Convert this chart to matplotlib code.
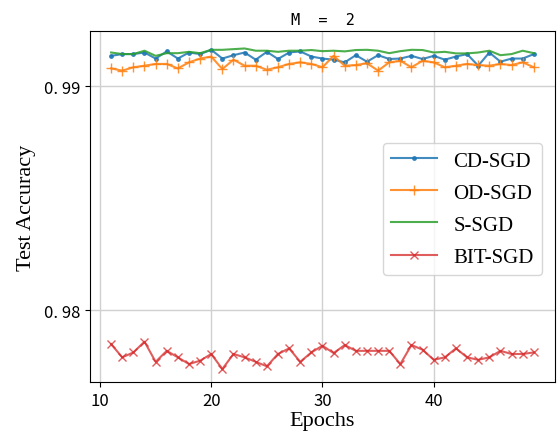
import numpy as np
import matplotlib.pyplot as plt

epochs = list(range(11, 50))

cd_sgd = [0.99135, 0.99143, 0.99143, 0.99150, 0.99123, 0.99155, 0.99123, 0.99150, 0.99143, 0.99162,
          0.99123, 0.99138, 0.99150, 0.99118, 0.99153, 0.99121, 0.99150, 0.99155, 0.99132, 0.99123,
          0.99118, 0.99106, 0.99138, 0.99109, 0.99138, 0.99121, 0.99123, 0.99135, 0.99121, 0.99135,
          0.99118, 0.99132, 0.99143, 0.99091, 0.99150, 0.99109, 0.99123, 0.99123, 0.99143]

od_sgd = [0.99079, 0.99069, 0.99084, 0.99091, 0.99099, 0.99099, 0.99079, 0.99106, 0.99123, 0.99132,
          0.99076, 0.99118, 0.99091, 0.99091, 0.99073, 0.99084, 0.99099, 0.99106, 0.99099, 0.99084,
          0.99135, 0.99091, 0.99094, 0.99102, 0.99069, 0.99106, 0.99113, 0.99084, 0.99113, 0.99106,
          0.99084, 0.99091, 0.99099, 0.99094, 0.99091, 0.99099, 0.99094, 0.99106, 0.99084]

s_sgd = [0.99150, 0.99143, 0.99143, 0.99158, 0.99135, 0.99147, 0.99147, 0.99153, 0.99147, 0.99162,
         0.99162, 0.99165, 0.99168, 0.99158, 0.99158, 0.99153, 0.99158, 0.99158, 0.99161, 0.99156,
         0.99158, 0.99155, 0.99161, 0.99162, 0.99158, 0.99147, 0.99156, 0.99162, 0.99161, 0.99150,
         0.99153, 0.99146, 0.99146, 0.99150, 0.99158, 0.99138, 0.99143, 0.99158, 0.99147]

bit_sgd = [0.97848, 0.97789, 0.97811, 0.97859, 0.97769, 0.97818, 0.97789, 0.97759, 0.97774, 0.97804,
           0.97737, 0.97804, 0.97789, 0.97769, 0.97749, 0.97804, 0.97829, 0.97769, 0.97811, 0.97841,
           0.97808, 0.97844, 0.97818, 0.97818, 0.97818, 0.97818, 0.97759, 0.97844, 0.97823, 0.97778,
           0.97789, 0.97829, 0.97789, 0.97778, 0.97789, 0.97818, 0.97804, 0.97804, 0.97811]

yticks = [0.98, 0.99]
ytick_labels = ["0. 98", "0. 99"]

fig = plt.figure(figsize=(5.6, 4.39), dpi=100)
ax = fig.add_axes([0.1607, 0.1276, 0.8303, 0.7995])

ax.plot(epochs, cd_sgd, color='#1f77b4', marker='.', markersize=5, linewidth=1.5, alpha=0.85, label='CD-SGD')
ax.plot(epochs, od_sgd, color='#ff7f0e', marker='+', markersize=7, linewidth=1.5, alpha=0.85, label='OD-SGD')
ax.plot(epochs, s_sgd, color='#2ca02c', linewidth=1.5, alpha=0.85, label='S-SGD')
ax.plot(epochs, bit_sgd, color='#d62728', marker='x', markersize=6, linewidth=1.5, alpha=0.75, label='BIT-SGD')

ax.set_ylim(0.97679, 0.99246)
ax.set_xticks([10, 20, 30, 40])
ax.set_yticks(yticks)
ax.set_yticklabels(ytick_labels, family=['Noto Sans CJK SC', 'DejaVu Sans'], fontsize=12)
for lbl in ax.get_xticklabels():
    lbl.set_fontsize(12)
    lbl.set_family(['Noto Sans CJK SC', 'DejaVu Sans'])

ax.grid(True, color='#d0d0d0', linewidth=1)
ax.set_axisbelow(True)

ax.set_xlabel('Epochs', family='Liberation Serif', fontsize=16, labelpad=2)
ax.set_ylabel('Test Accuracy', family='Liberation Serif', fontsize=16, labelpad=6)
ax.set_title('M  =  2', family='DejaVu Sans Mono', fontsize=11, pad=5)

ax.legend(loc='center right', bbox_to_anchor=(0.995, 0.493),
          prop={'family': 'Liberation Serif', 'size': 15}, handlelength=2.2,
          labelspacing=0.6)

fig.savefig('out.png', dpi=100)
